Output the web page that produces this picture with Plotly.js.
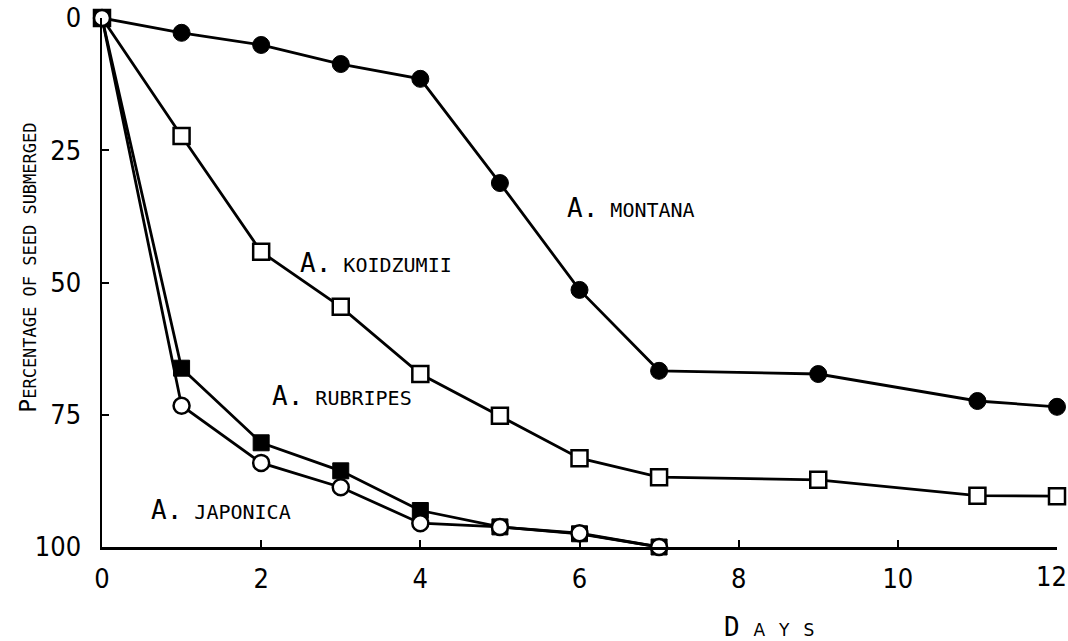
<!DOCTYPE html>
<html>
<head>
<meta charset="utf-8">
<script src="https://cdn.plot.ly/plotly-3.0.1.min.js"></script>
<style>html,body{margin:0;padding:0;background:#fff;}#chart{width:1068px;height:641px;}</style>
</head>
<body>
<div id="chart"></div>
<script>
// Days
const daysMontana = [0, 1, 2, 3, 4, 5, 6, 7, 9, 11, 12];
const montana = [0, 2.8, 5.1, 8.7, 11.5, 31.2, 51.4, 66.7, 67.3, 72.4, 73.5];

const daysKoidzumii = [0, 1, 2, 3, 4, 5, 6, 7, 9, 11, 12];
const koidzumii = [0, 22.3, 44.2, 54.6, 67.3, 75.2, 83.2, 86.8, 87.3, 90.3, 90.4];

const daysRubripes = [0, 1, 2, 3, 4, 5, 6, 7];
const rubripes = [0, 66.2, 80.3, 85.6, 93.1, 96.2, 97.5, 100];

const daysJaponica = [0, 1, 2, 3, 4, 5, 6, 7];
const japonica = [0, 73.3, 84.1, 88.7, 95.5, 96.2, 97.4, 100];

const xTicks = [0, 2, 4, 6, 8, 10, 12];
const yTicks = [0, 25, 50, 75, 100];

const seriesLabels = [
  {name: "MONTANA", x: 5.82, y: 35.9},
  {name: "KOIDZUMII", x: 2.46, y: 46.3},
  {name: "RUBRIPES", x: 2.11, y: 71.5},
  {name: "JAPONICA", x: 0.59, y: 93.0}
];

const FONT = "DejaVu Sans Mono, monospace";
const TICKFONT = "Liberation Sans Narrow, DejaVu Sans Condensed, DejaVu Sans Mono, sans-serif";
const lineStyle = {color: "#000", width: 2.8};

const traces = [
  {x: daysMontana, y: montana, mode: "lines+markers", line: lineStyle,
   marker: {symbol: "circle", size: 17, color: "#000", line: {color: "#000", width: 1}}, cliponaxis: false},
  {x: daysKoidzumii, y: koidzumii, mode: "lines+markers", line: lineStyle,
   marker: {symbol: "square", size: 16, color: "#fff", line: {color: "#000", width: 2.5}}, cliponaxis: false},
  {x: daysRubripes, y: rubripes, mode: "lines+markers", line: lineStyle,
   marker: {symbol: "square", size: 16, color: "#000", line: {color: "#000", width: 1}}, cliponaxis: false},
  {x: daysJaponica, y: japonica, mode: "lines+markers", line: lineStyle,
   marker: {symbol: "circle", size: 16, color: "#fff", line: {color: "#000", width: 2.5}}, cliponaxis: false}
];

const annotations = seriesLabels.map(s => ({
  x: s.x, y: s.y, xref: "x", yref: "y", xanchor: "left", yanchor: "middle",
  showarrow: false,
  text: "A.<span style='font-size:20px'> " + s.name + "</span>",
  font: {family: FONT, size: 26, color: "#000"}
}));

annotations.push({
  x: 0, y: 0.528, xref: "paper", yref: "paper", xanchor: "center", yanchor: "middle",
  xshift: -74, showarrow: false, textangle: -90,
  text: "P<span style='font-size:17px'>ERCENTAGE OF SEED SUBMERGED</span>",
  font: {family: FONT, size: 23, color: "#000"}
});
annotations.push({
  x: 0.698, y: 0, xref: "paper", yref: "paper", xanchor: "center", yanchor: "middle",
  yshift: -80, showarrow: false,
  text: "D<span style='font-size:17px;font-family:DejaVu Sans'>\u2002 A\u2002 Y\u2002 S</span>",
  font: {family: FONT, size: 26, color: "#000"}
});

// last x tick label drawn as annotation so it stays inside the page
const lastX = xTicks[xTicks.length - 1];
annotations.push({
  x: lastX, y: 0, xref: "x", yref: "paper", xanchor: "center", yanchor: "top",
  xshift: -6, yshift: -12, showarrow: false,
  text: String(lastX),
  font: {family: TICKFONT, size: 27, color: "#000"}
});

const layout = {
  width: 1068, height: 641,
  margin: {l: 102, r: 11, t: 18, b: 94},
  paper_bgcolor: "#fff", plot_bgcolor: "#fff",
  showlegend: false,
  font: {family: FONT, color: "#000"},
  xaxis: {
    range: [0, 12], tickvals: xTicks,
    ticktext: xTicks.map(v => v === lastX ? "" : String(v)),
    showgrid: false, zeroline: false, showline: true, linecolor: "#000", linewidth: 2.5,
    ticks: "inside", ticklen: 7, tickwidth: 2, tickcolor: "#000",
    tickfont: {family: TICKFONT, size: 27, color: "#000"}, ticklabelstandoff: 6
  },
  yaxis: {
    range: [100, 0], tickvals: yTicks, ticktext: yTicks.map(String),
    showgrid: false, zeroline: false, showline: true, linecolor: "#000", linewidth: 2.5,
    ticks: "inside", ticklen: 7, tickwidth: 2, tickcolor: "#000",
    tickfont: {family: TICKFONT, size: 27, color: "#000"}, ticklabelstandoff: 13,
    ticklabeloverflow: "allow"
  },
  annotations: annotations
};

Plotly.newPlot("chart", traces, layout, {staticPlot: true});
</script>
</body>
</html>
